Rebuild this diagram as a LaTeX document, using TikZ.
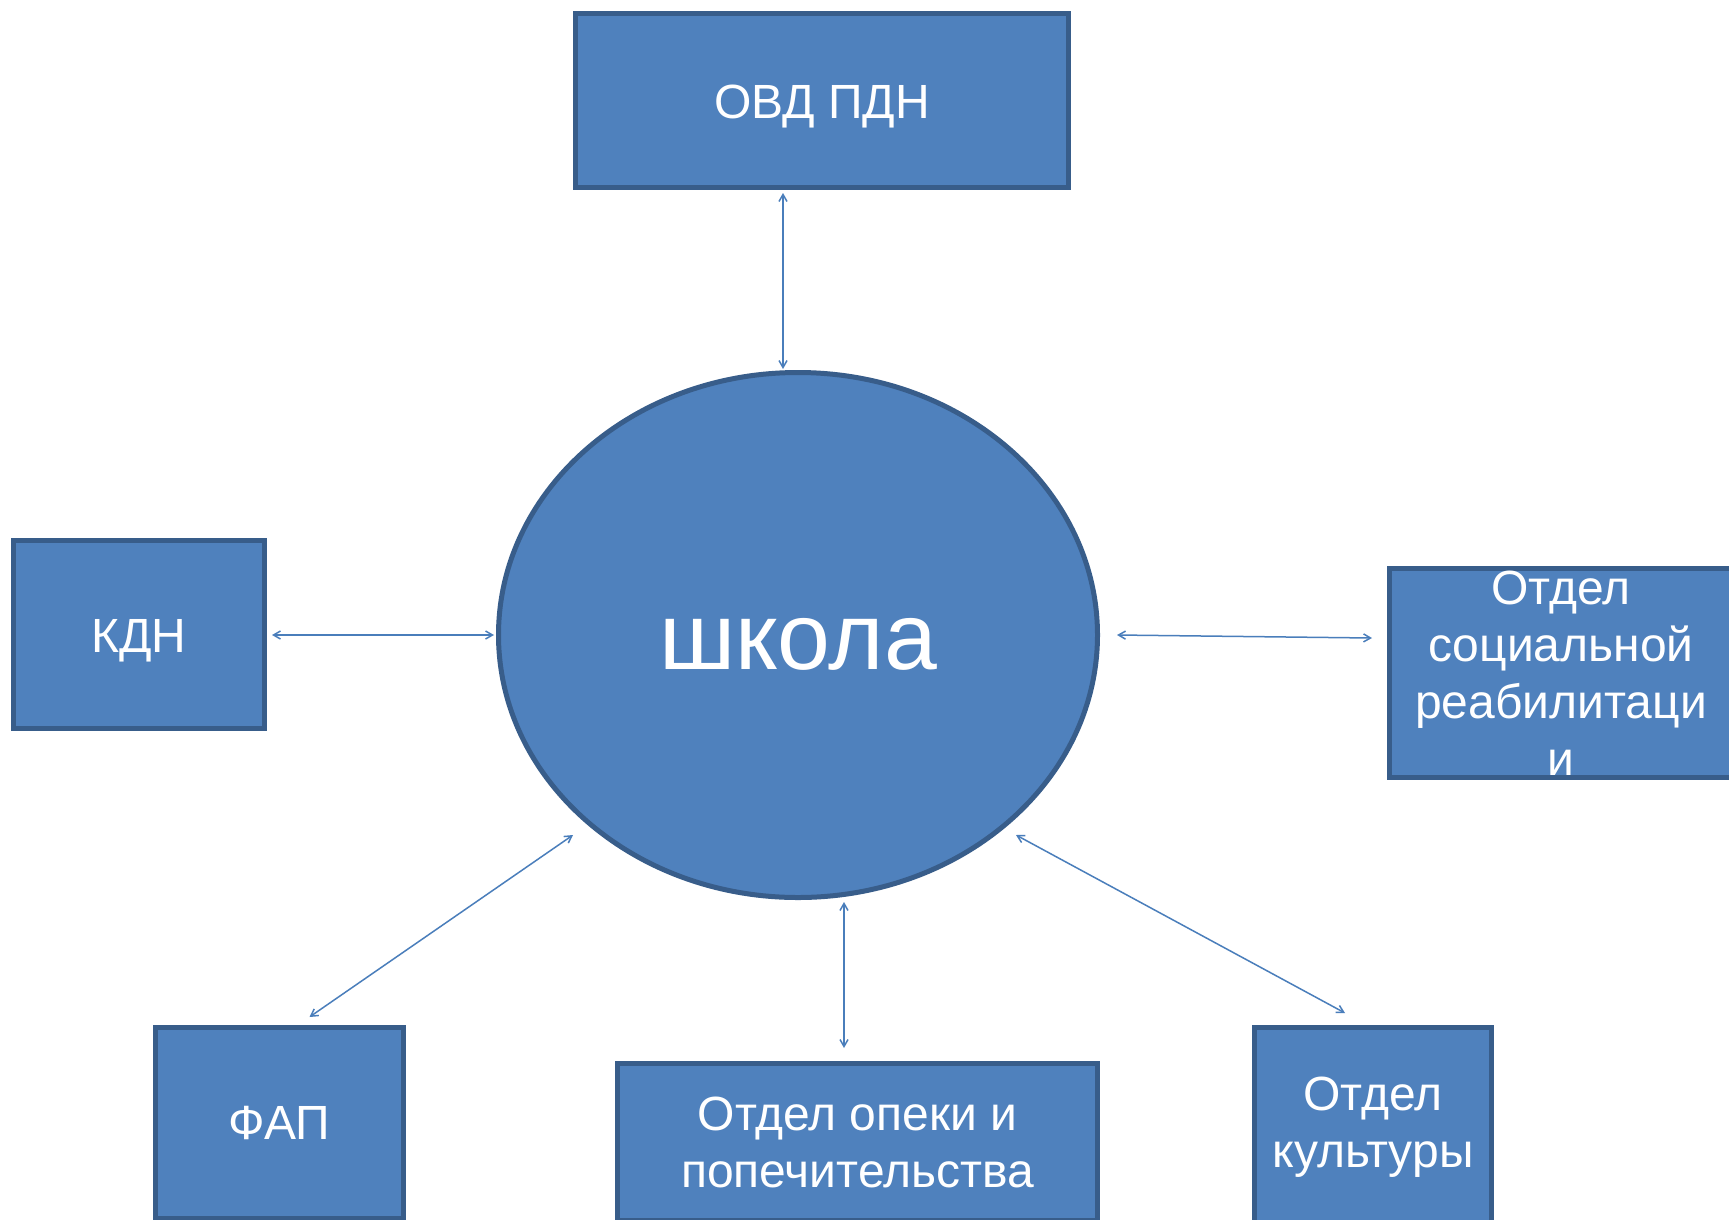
\documentclass[tikz,border=0pt]{standalone}
\usepackage{fontspec}
\setmainfont{Liberation Sans}
\usetikzlibrary{shapes.geometric,arrows.meta,calc}
\definecolor{boxfill}{HTML}{4F81BD}
\definecolor{boxline}{HTML}{385D8A}
\definecolor{linkcol}{HTML}{4A7EBB}
\newcommand{\lowerby}[2]{\raisebox{-#1}[\height][\depth]{#2}}
\begin{document}
\begin{tikzpicture}[x=1pt,y=-1pt,
  box/.style={rectangle, draw=boxline, fill=boxfill, line width=5pt, text=white, align=center, inner sep=0pt, font=\fontsize{48}{57}\selectfont},
  hub/.style={ellipse, draw=boxline, fill=boxfill, line width=5pt, text=white, inner sep=0pt, font=\fontsize{95}{110}\selectfont},
  link/.style={draw=linkcol, line width=1.5pt, {Straight Barb[length=7pt,width=8pt]}-{Straight Barb[length=7pt,width=8pt]}}
]
\useasboundingbox (0,0) rectangle (1729,1219);
\clip (0,0) rectangle (1729,1219);
\fill[white] (0,0) rectangle (1729,1219);

\node[box, minimum width=493, minimum height=174] (ovd) at (822,100.5) {\lowerby{6pt}{ОВД ПДН}};
\node[hub, minimum width=599, minimum height=525] (school) at (798,635) {\lowerby{9pt}{школа}};
\node[box, minimum width=251, minimum height=188] (kdn) at (139,634.5) {\lowerby{6pt}{КДН}};
\node[box, minimum width=343, minimum height=209] (reab) at (1561,673) {Отдел\\социальной\\реабилитаци\\и};
\node[box, minimum width=248, minimum height=191] (fap) at (279.5,1123) {ФАП};
\node[box, minimum width=480, minimum height=157] (opeka) at (857.5,1142) {Отдел опеки и\\попечительства};
\node[box, minimum width=237, minimum height=195] (kult) at (1373,1125) {\lowerby{3pt}{\begin{tabular}{@{}c@{}}Отдел\\культуры\end{tabular}}};

\draw[link] ($(ovd.south)+(-39,3)$) -- ($(school.north)+(-15,-1)$);
\draw[link] ($(kdn.east)+(5,0.5)$) -- ($(school.west)+(-2,0)$);
\draw[link] ($(school.east)+(17,0)$) -- ($(reab.west)+(-15,-35)$);
\draw[link] ($(fap.north)+(30,-8)$) -- ($(school.center)+(-225,200)$);
\draw[link] ($(school.south)+(46,2)$) -- ($(opeka.north)+(-13.5,-13)$);
\draw[link] ($(school.center)+(218,200)$) -- ($(kult.north)+(-28,-12)$);
\end{tikzpicture}
\end{document}
